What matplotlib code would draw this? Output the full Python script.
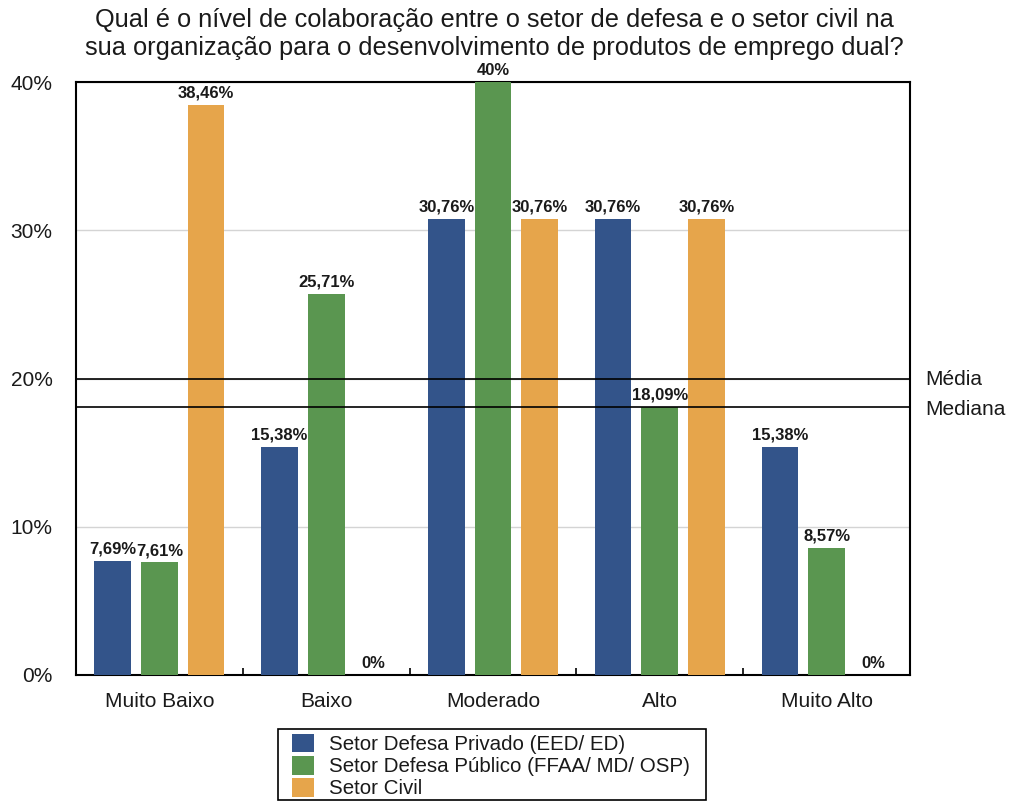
import numpy as np
import matplotlib
matplotlib.use("Agg")
import matplotlib.pyplot as plt
from matplotlib.patches import Rectangle
from matplotlib.ticker import FixedLocator, PercentFormatter

plt.rcParams['font.family'] = ['Liberation Sans', 'DejaVu Sans']

categories = ["Muito Baixo", "Baixo", "Moderado", "Alto", "Muito Alto"]
series_names = [
    "Setor Defesa Privado (EED/ ED)",
    "Setor Defesa Público (FFAA/ MD/ OSP)",
    "Setor Civil",
]
privado = [7.69, 15.38, 30.76, 30.76, 15.38]
publico = [7.61, 25.71, 40.00, 18.09, 8.57]
civil = [38.46, 0.00, 30.76, 30.76, 0.00]
value_labels = [
    ["7,69%", "15,38%", "30,76%", "30,76%", "15,38%"],
    ["7,61%", "25,71%", "40%", "18,09%", "8,57%"],
    ["38,46%", "0%", "30,76%", "30,76%", "0%"],
]
colors = ["#33548A", "#5A9650", "#E6A54B"]
y_ticks = [0, 10, 20, 30, 40]

all_values = np.array(privado + publico + civil)
media = all_values.mean()
mediana = np.median(all_values)

W, H = 1010, 801
fig = plt.figure(figsize=(W / 100, H / 100), dpi=100)
ax = fig.add_axes([76 / W, 126 / H, 834 / W, 593 / H])

x = np.arange(len(categories))
width = 0.22
offsets = [-0.28, 0.0, 0.28]
for vals, labels, col, off, name in zip([privado, publico, civil], value_labels,
                                         colors, offsets, series_names):
    bars = ax.bar(x + off, vals, width, color=col, label=name, zorder=3,
                  clip_on=False)
    for b, v, lab in zip(bars, vals, labels):
        ax.annotate(lab, (b.get_x() + b.get_width() / 2, v),
                    xytext=(0, 3), textcoords="offset points",
                    ha="center", va="bottom", fontsize=12, fontweight="bold",
                    color="#1a1a1a", annotation_clip=False, zorder=5)

ax.set_xlim(-0.5, len(categories) - 0.5)
ax.set_ylim(0, 40)
ax.yaxis.set_major_locator(FixedLocator(y_ticks))
ax.yaxis.set_major_formatter(PercentFormatter(decimals=0))
ax.grid(axis="y", color="#d4d4d4", linewidth=1.0, zorder=0)
ax.set_axisbelow(True)

ax.set_xticks(x)
ax.set_xticklabels(categories)
ax.set_xticks(np.arange(0.5, len(categories) - 0.5, 1.0), minor=True)
ax.tick_params(axis="x", which="major", length=0, pad=12, labelsize=15,
               labelcolor="#1a1a1a")
ax.tick_params(axis="x", which="minor", length=5, direction="in", width=1.2)
ax.tick_params(axis="y", length=0, pad=17, labelsize=15, labelcolor="#1a1a1a")

for s in ax.spines.values():
    s.set_linewidth(1.5)
    s.set_color("black")

ax.axhline(media, color="black", linewidth=1.2, zorder=4)
ax.axhline(mediana, color="black", linewidth=1.2, zorder=4)
ax.annotate("Média", (1, media), xycoords=("axes fraction", "data"),
            xytext=(11, -1), textcoords="offset points", va="center",
            fontsize=15, color="#1a1a1a", annotation_clip=False)
ax.annotate("Mediana", (1, mediana), xycoords=("axes fraction", "data"),
            xytext=(11, -2), textcoords="offset points", va="center",
            fontsize=15, color="#1a1a1a", annotation_clip=False)

fig.text(494 / W, 1 - 8 / H,
         "Qual é o nível de colaboração entre o setor de defesa e o setor civil na\n"
         "sua organização para o desenvolvimento de produtos de emprego dual?",
         ha="center", va="top", fontsize=18.3, linespacing=1.22, color="#1a1a1a")

# legend entries without their own frame, boxed by a separate rectangle
leg = fig.legend(loc="lower left", bbox_to_anchor=(287 / W, -2 / H),
                 frameon=False, fontsize=14.8,
                 handlelength=1.1, handleheight=1.0, handletextpad=0.7,
                 labelspacing=0.09, borderpad=0.22, borderaxespad=0)
for t in leg.get_texts():
    t.set_color("#1a1a1a")
fig.patches.append(Rectangle((278 / W, 1.5 / H), 428 / W, 71 / H,
                             transform=fig.transFigure, fill=False,
                             edgecolor="black", linewidth=1.2))

fig.savefig("out.png", dpi=100, facecolor="white")
